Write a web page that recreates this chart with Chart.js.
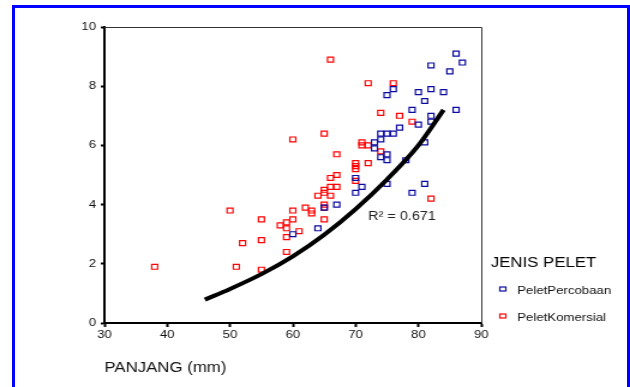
<!DOCTYPE html>
<html>
<head>
<meta charset="utf-8">
<script src="https://cdn.jsdelivr.net/npm/chart.js@4/dist/chart.umd.min.js"></script>
<style>
  body { margin: 0; background: #fff; }
  #wrap { position: relative; width: 630px; height: 387px; overflow: hidden; }
  #frame { position: absolute; left: 12px; top: 5px; width: 612px; height: 420px; border: 3px solid #0000ff; }
  canvas { position: absolute; left: 0; top: 0; }
</style>
</head>
<body>
<div id="wrap">
  <div id="frame"></div>
  <canvas id="chart" width="525" height="387" style="width:630px;height:387px"></canvas>
</div>
<script>
// PeletPercobaan (blue)
const blueX = [60, 64, 65, 67, 70, 70, 71, 75, 79, 81, 73, 73, 74, 75, 76, 74, 74, 75, 75, 77, 78, 81, 80, 82, 82, 86, 87, 82, 85, 82, 80, 84, 81, 76, 75, 79, 86];
const blueY = [3.0, 3.2, 3.9, 4.0, 4.9, 4.4, 4.6, 4.7, 4.4, 4.7, 6.1, 5.9, 6.4, 6.4, 6.4, 6.2, 5.6, 5.7, 5.5, 6.6, 5.5, 6.1, 6.7, 6.8, 7.0, 9.1, 8.8, 8.7, 8.5, 7.9, 7.8, 7.8, 7.5, 7.9, 7.7, 7.2, 7.2];

// PeletKomersial (red)
const redX = [38, 50, 51, 52, 55, 55, 55, 58, 59, 59, 59, 59, 60, 60, 60, 61, 62, 63, 63, 64, 65, 65, 65, 65, 65, 65, 66, 66, 66, 66, 67, 67, 67, 70, 70, 70, 70, 71, 71, 72, 72, 72, 74, 74, 76, 77, 79, 82];
const redY = [1.9, 3.8, 1.9, 2.7, 3.5, 2.8, 1.8, 3.3, 3.4, 3.2, 2.9, 2.4, 3.5, 3.8, 6.2, 3.1, 3.9, 3.8, 3.7, 4.3, 3.5, 3.9, 4.0, 4.4, 4.5, 6.4, 4.3, 4.6, 4.9, 8.9, 4.6, 5.0, 5.7, 4.8, 5.2, 5.3, 5.4, 6.0, 6.1, 5.4, 6.0, 8.1, 5.8, 7.1, 8.1, 7.0, 6.8, 4.2];

// fitted curve
const fitX = [46, 50, 55, 60, 65, 70, 75, 80, 84];
const fitY = [0.79, 1.15, 1.65, 2.25, 2.98, 3.85, 4.85, 6.0, 7.2];

const xTicks = [30, 40, 50, 60, 70, 80, 90];
const yTicks = [0, 2, 4, 6, 8, 10];
const seriesNames = ['PeletPercobaan', 'PeletKomersial'];
const legendTitle = 'JENIS PELET';
const r2Text = 'R\u00B2 = 0.671';
const r2At = [72, 3.58];

function pairs(xs, ys) {
    return xs.map(function(x, i) { return {x: x, y: ys[i]}; });
}

const BLUE = '#0a0aa0';
const RED = '#ff0000';
const FONT = '"Liberation Sans", Arial, sans-serif';

const framePlugin = {
    id: 'frame',
    afterDraw: function(chart) {
        const ctx = chart.ctx;
        const a = chart.chartArea;
        ctx.save();
        ctx.strokeStyle = '#333';
        ctx.lineWidth = 1;
        ctx.beginPath();
        ctx.moveTo(a.left, a.top + 0.5);
        ctx.lineTo(a.right + 0.5, a.top + 0.5);
        ctx.lineTo(a.right + 0.5, a.bottom);
        ctx.stroke();

        // R squared label
        const xs = chart.scales.x, ys = chart.scales.y;
        ctx.fillStyle = '#222';
        ctx.font = '12px ' + FONT;
        ctx.textBaseline = 'middle';
        ctx.textAlign = 'left';
        ctx.fillText(r2Text, xs.getPixelForValue(r2At[0]), ys.getPixelForValue(r2At[1]));

        // legend
        ctx.fillStyle = '#000';
        ctx.font = '14px ' + FONT;
        ctx.fillText(legendTitle, 409, 263);
        ctx.font = '11px ' + FONT;
        [1, 2].forEach(function(di, k) {
            const ds = chart.data.datasets[di];
            const cy = 289 + k * 27;
            ctx.strokeStyle = ds.borderColor;
            ctx.lineWidth = 1.2;
            ctx.strokeRect(416.5, cy - 2, 5, 4);
            ctx.fillStyle = '#111';
            ctx.fillText(ds.label, 431, cy + 2);
        });
        ctx.restore();
    }
};

new Chart(document.getElementById('chart'), {
    type: 'scatter',
    data: {
        datasets: [
            {
                label: 'fit',
                data: pairs(fitX, fitY),
                showLine: true,
                borderColor: '#000',
                borderWidth: 4,
                pointRadius: 0,
                cubicInterpolationMode: 'monotone',
                fill: false
            },
            {
                label: seriesNames[0],
                data: pairs(blueX, blueY),
                pointStyle: 'rect',
                pointRadius: 3.5,
                borderWidth: 1.2,
                borderColor: BLUE,
                backgroundColor: 'rgba(0,0,0,0)'
            },
            {
                label: seriesNames[1],
                data: pairs(redX, redY),
                pointStyle: 'rect',
                pointRadius: 3.5,
                borderWidth: 1.2,
                borderColor: RED,
                backgroundColor: 'rgba(0,0,0,0)'
            }
        ]
    },
    options: {
        responsive: false,
        animation: false,
        devicePixelRatio: 1,
        layout: { padding: { top: 27, right: 124, bottom: 0, left: 0 } },
        plugins: { legend: { display: false }, tooltip: { enabled: false } },
        scales: {
            x: {
                type: 'linear',
                min: 30,
                max: 90,
                afterBuildTicks: function(scale) { scale.ticks = xTicks.map(function(v) { return {value: v}; }); },
                afterFit: function(scale) { scale.height = 64; },
                border: { color: '#000', width: 2 },
                grid: { drawOnChartArea: false, drawTicks: true, tickLength: 4, tickWidth: 2, tickColor: '#000' },
                ticks: { color: '#111', font: { family: FONT, size: 11 }, padding: 1, maxRotation: 0 },
                title: {
                    display: true,
                    text: 'PANJANG (mm)',
                    align: 'start',
                    color: '#111',
                    font: { family: FONT, size: 14 },
                    padding: { top: 0, bottom: 10 }
                }
            },
            y: {
                min: 0,
                max: 10,
                afterBuildTicks: function(scale) { scale.ticks = yTicks.map(function(v) { return {value: v}; }); },
                afterFit: function(scale) { scale.width = 87; },
                border: { color: '#000', width: 2 },
                grid: { drawOnChartArea: false, drawTicks: true, tickLength: 3, tickWidth: 2, tickColor: '#000' },
                ticks: { color: '#111', font: { family: FONT, size: 11 }, padding: 4 }
            }
        }
    },
    plugins: [framePlugin]
});
</script>
</body>
</html>
